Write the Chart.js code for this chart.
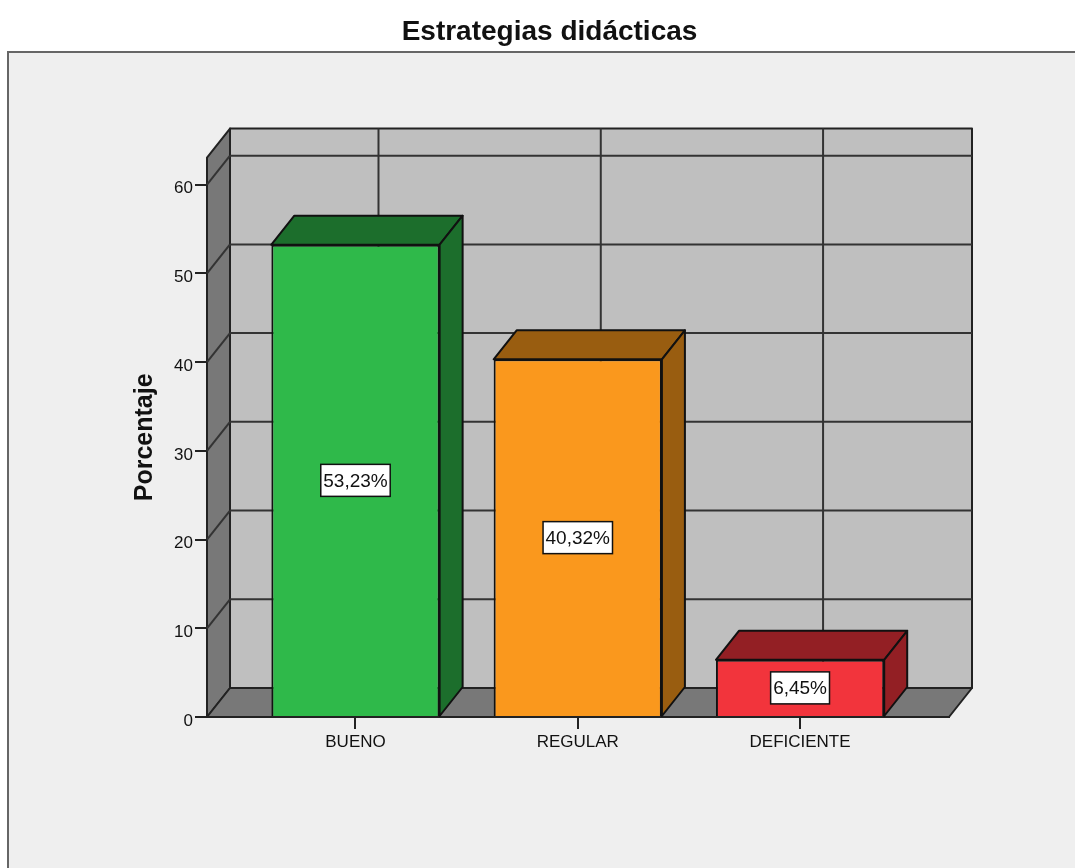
<!DOCTYPE html>
<html lang="es">
<head>
    <meta charset="UTF-8">
    <title>Estrategias didácticas</title>
    <script src="https://cdn.jsdelivr.net/npm/chart.js"></script>
    <style>
        body { margin: 0; background: #fff; }
        canvas { display: block; }
    </style>
</head>
<body>
<canvas id="statsChart" width="1075" height="868"></canvas>

<script>
    const chartTitle = 'Estrategias didácticas';
    const yTitle = 'Porcentaje';
    const categories = ['BUENO', 'REGULAR', 'DEFICIENTE'];
    const values = [53.23, 40.32, 6.45];
    const yTicks = [0, 10, 20, 30, 40, 50, 60];
    const frontColors = ['#2fb94a', '#fa981d', '#f2343c'];
    const sideColors = ['#1c6e2c', '#995d10', '#931f24'];

    // profundidad del efecto 3D
    const depthX = 23;
    const depthY = 29;

    function face(ctx, points, fill) {
        ctx.beginPath();
        points.forEach((p, i) => i ? ctx.lineTo(p[0], p[1]) : ctx.moveTo(p[0], p[1]));
        ctx.closePath();
        ctx.fillStyle = fill;
        ctx.fill();
        ctx.stroke();
    }

    function gridLine(ctx, x1, y1, x2, y2) {
        ctx.beginPath();
        ctx.moveTo(x1, y1);
        ctx.lineTo(x2, y2);
        ctx.stroke();
    }

    const panel = {
        id: 'panel',
        beforeDraw(chart) {
            const ctx = chart.ctx;
            ctx.save();
            ctx.fillStyle = '#efefef';
            ctx.fillRect(8, 52, chart.width, chart.height);
            ctx.strokeStyle = '#666';
            ctx.lineWidth = 2;
            ctx.strokeRect(8, 52, chart.width, chart.height);
            ctx.restore();
        }
    };

    const box3d = {
        id: 'box3d',
        beforeDatasetsDraw(chart) {
            const ctx = chart.ctx;
            const a = chart.chartArea;
            const xs = chart.scales.x;
            const ys = chart.scales.y;
            ctx.save();
            ctx.lineJoin = 'round';

            // paredes y piso
            ctx.strokeStyle = '#222';
            ctx.lineWidth = 2;
            face(ctx, [[a.left + depthX, a.top - depthY], [a.right + depthX, a.top - depthY],
                       [a.right + depthX, a.bottom - depthY], [a.left + depthX, a.bottom - depthY]], '#bfbfbf');
            face(ctx, [[a.left, a.top], [a.left + depthX, a.top - depthY],
                       [a.left + depthX, a.bottom - depthY], [a.left, a.bottom]], '#787878');
            face(ctx, [[a.left, a.bottom], [a.left + depthX, a.bottom - depthY],
                       [a.right + depthX, a.bottom - depthY], [a.right, a.bottom]], '#787878');

            // cuadricula
            ctx.strokeStyle = '#333';
            ys.ticks.forEach(t => {
                const y = ys.getPixelForValue(t.value);
                if (t.value > 0) {
                    gridLine(ctx, a.left + depthX, y - depthY, a.right + depthX, y - depthY);
                    gridLine(ctx, a.left, y, a.left + depthX, y - depthY);
                }
            });
            xs.ticks.forEach(t => {
                const x = xs.getPixelForValue(t.value) + depthX;
                gridLine(ctx, x, a.top - depthY, x, a.bottom - depthY);
            });

            // caras superior y lateral de las barras
            ctx.strokeStyle = '#111';
            chart.getDatasetMeta(0).data.forEach((bar, i) => {
                const p = bar.getProps(['x', 'y', 'base', 'width'], true);
                const l = p.x - p.width / 2;
                const r = p.x + p.width / 2;
                face(ctx, [[l, p.y], [l + depthX, p.y - depthY], [r + depthX, p.y - depthY], [r, p.y]], sideColors[i]);
                face(ctx, [[r, p.y], [r + depthX, p.y - depthY], [r + depthX, p.base - depthY], [r, p.base]], sideColors[i]);
            });
            ctx.restore();
        }
    };

    const valueBoxes = {
        id: 'valueBoxes',
        afterDatasetsDraw(chart) {
            const ctx = chart.ctx;
            ctx.save();
            ctx.font = '19px "Liberation Sans"';
            ctx.textAlign = 'center';
            ctx.textBaseline = 'middle';
            chart.getDatasetMeta(0).data.forEach((bar, i) => {
                const p = bar.getProps(['x', 'y', 'base'], true);
                const cy = (p.y + p.base) / 2;
                const text = values[i].toFixed(2).replace('.', ',') + '%';
                const w = ctx.measureText(text).width + 5;
                ctx.fillStyle = '#fff';
                ctx.strokeStyle = '#111';
                ctx.lineWidth = 1.5;
                ctx.fillRect(p.x - w / 2, cy - 16, w, 32);
                ctx.strokeRect(p.x - w / 2, cy - 16, w, 32);
                ctx.fillStyle = '#111';
                ctx.fillText(text, p.x, cy + 1);
            });
            ctx.restore();
        }
    };

    new Chart(document.getElementById('statsChart'), {
        type: 'bar',
        data: {
            datasets: [{
                data: categories.map((c, i) => ({ x: i, y: values[i] })),
                backgroundColor: frontColors,
                borderColor: '#111',
                borderWidth: 2,
                categoryPercentage: 1,
                barPercentage: 0.757
            }]
        },
        options: {
            responsive: false,
            animation: false,
            layout: { padding: { left: 150, right: 126, top: 0, bottom: 0 } },
            plugins: {
                legend: { display: false },
                tooltip: { enabled: false },
                title: {
                    display: true,
                    text: chartTitle,
                    color: '#111',
                    font: { family: '"Liberation Sans"', size: 28, weight: 'bold', lineHeight: 1.2 },
                    padding: { top: 15, bottom: 109 }
                }
            },
            scales: {
                x: {
                    type: 'linear',
                    offset: false,
                    min: -0.668,
                    max: 2.67,
                    afterBuildTicks(axis) {
                        axis.ticks = categories.map((c, i) => ({ value: i }));
                    },
                    afterFit(axis) { axis.height = 151; },
                    border: { display: true, color: '#222', width: 2 },
                    grid: { offset: false, drawOnChartArea: false, color: '#222', lineWidth: 2, tickLength: 12 },
                    ticks: {
                        color: '#111',
                        maxRotation: 0,
                        autoSkip: false,
                        padding: 3,
                        font: { family: '"Liberation Sans"', size: 17 },
                        callback: v => categories[v]
                    }
                },
                y: {
                    min: 0,
                    max: 63.05,
                    afterBuildTicks(axis) {
                        axis.ticks = yTicks.map(v => ({ value: v }));
                    },
                    afterFit(axis) { axis.width = 57; },
                    border: { display: false },
                    grid: { drawOnChartArea: false, color: '#222', lineWidth: 2, tickLength: 12 },
                    ticks: {
                        color: '#111',
                        padding: 2,
                        labelOffset: 4,
                        font: { family: '"Liberation Sans"', size: 17 }
                    },
                    title: {
                        display: true,
                        text: yTitle,
                        color: '#111',
                        font: { family: '"Liberation Sans"', size: 25, weight: 'bold', lineHeight: 1.2 },
                        padding: { top: -20, bottom: 0 }
                    }
                }
            }
        },
        plugins: [panel, box3d, valueBoxes]
    });
</script>
</body>
</html>
